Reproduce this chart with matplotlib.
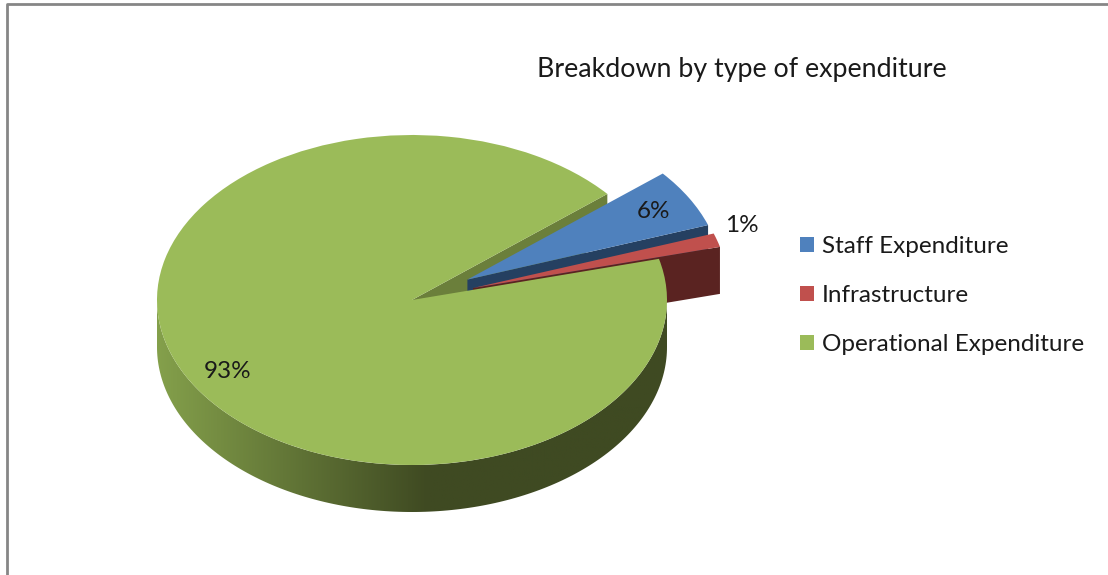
import numpy as np
import matplotlib
matplotlib.use('Agg')
import matplotlib.pyplot as plt
from matplotlib.colors import LinearSegmentedColormap
from matplotlib.patches import Polygon

labels = ['Staff Expenditure', 'Infrastructure', 'Operational Expenditure']
values = [5.75, 1.35, 92.9]
pct_labels = ['6%', '1%', '93%']
colors = ['#4F81BD', '#C0504D', '#9BBB59']
side_colors = ['#254061', '#5A2321', '#6B7F3B']
explode = [0.25, 0.25, 0]

W, H = 1108, 575
# pie top face on the picture, in pixels
cx, cy, rx, ry = 412, 300, 255, 165
depth = 47 / ry

plt.rcParams['font.family'] = ['Lato', 'DejaVu Sans']

fig = plt.figure(figsize=(W / 100, H / 100), dpi=100)
ax = fig.add_axes([0, 0, 1, 1])
wedges, _ = ax.pie(values, colors=colors, explode=explode, startangle=40,
                   counterclock=False, wedgeprops={'linewidth': 0})
ax.set_frame_on(False)


def rim(w, deg):
    t = np.deg2rad(deg)
    return w.center[0] + w.r * np.cos(t), w.center[1] + w.r * np.sin(t)


def cut_face(w, deg, color, z):
    x0, y0 = w.center
    x1, y1 = rim(w, deg)
    ax.add_patch(Polygon([(x0, y0), (x1, y1), (x1, y1 - depth), (x0, y0 - depth)],
                         closed=True, fc=color, ec='none', zorder=z))


staff, infra, oper = wedges
# drawing order is back to front
cut_face(oper, oper.theta1, side_colors[2], 1)
cut_face(staff, staff.theta1, side_colors[0], 2)
staff.set_zorder(3)
cut_face(infra, infra.theta1, side_colors[1], 4)
infra.set_zorder(5)
oper.set_zorder(8)

# outer wall of the big slice, with the Office style shading
t = np.deg2rad(np.linspace(180, 360, 181))
top = np.c_[np.cos(t), np.sin(t)]
wall = Polygon(np.r_[top, (top - [0, depth])[::-1]], closed=True, fc='none', ec='none', zorder=6)
ax.add_patch(wall)
shade = LinearSegmentedColormap.from_list('wall', [(0, '#84A04B'), (0.53, '#3F4A22'), (1, '#3F4A22')])
img = ax.imshow(np.linspace(0, 1, 256)[None, :], cmap=shade, aspect='auto', zorder=7,
                extent=(-1, 1, -1 - depth, 0))
img.set_clip_path(wall)
ax.set_aspect('auto')
ax.set_xlim(-cx / rx, (W - cx) / rx)
ax.set_ylim((cy - H) / ry, cy / ry)

# chart area border, only top and left are inside the crop
fig.add_artist(plt.Line2D([7 / W, 7 / W, 1], [0, 1 - 4 / H, 1 - 4 / H], color='#868686', lw=2))

fig.text(537 / W, 1 - 69 / H, 'Breakdown by type of expenditure', fontsize=19.3, color='#1a1a1a', va='center')
fig.text(653 / W, 1 - 212 / H, pct_labels[0], fontsize=17.5, color='#1a1a1a', ha='center', va='center', zorder=10)
fig.text(742 / W, 1 - 225 / H, pct_labels[1], fontsize=17.5, color='#1a1a1a', ha='center', va='center', zorder=10)
fig.text(228 / W, 1 - 371 / H, pct_labels[2], fontsize=17.5, color='#1a1a1a', ha='center', va='center', zorder=10)

leg = ax.legend(wedges, labels, loc='upper left', bbox_to_anchor=(800 / W, 1 - 236 / H),
                bbox_transform=fig.transFigure, frameon=False, fontsize=17.5,
                handlelength=0.58, handleheight=0.58, handletextpad=0.33, labelspacing=1.16,
                borderpad=0, borderaxespad=0, labelcolor='#1a1a1a')
leg.set_zorder(10)

fig.savefig('out.png', dpi=100)
